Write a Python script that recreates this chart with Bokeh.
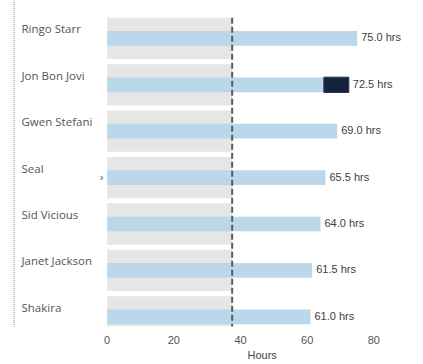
from bokeh.plotting import figure
from bokeh.models import Range1d, FixedTicker, Title, ColumnDataSource
from bokeh.core.properties import value
from bokeh.embed import file_html
from bokeh.resources import INLINE

# ---- data ----
names = ["Ringo Starr", "Jon Bon Jovi", "Gwen Stefani", "Seal",
         "Sid Vicious", "Janet Jackson", "Shakira"]
hours = [75.0, 72.5, 69.0, 65.5, 64.0, 61.5, 61.0]
highlight_name = "Jon Bon Jovi"
highlight_from = 65.0
target = 37.5
ticks = [0, 20, 40, 60, 80]
axis_title = "Hours"
unit = "hrs"

# ---- derived ----
idx = list(range(len(names)))
base = [min(h, highlight_from) if n == highlight_name else h for n, h in zip(names, hours)]
hi_i = names.index(highlight_name)

src = ColumnDataSource(dict(
    y=idx, name=names, hours=hours, base=base,
    zero=[0] * len(names), tgt=[target] * len(names),
    lbl=[f"{h:.1f} {unit}" for h in hours],
))

p = figure(width=423, height=364, output_backend="svg", toolbar_location=None,
           x_range=Range1d(-32.0, 94.9), y_range=Range1d(6.209, -0.817),
           min_border_left=0, min_border_right=0, min_border_top=0,
           min_border_bottom=38, margin=0)
p.outline_line_color = None
p.xgrid.visible = False
p.ygrid.visible = False
p.yaxis.visible = False
p.background_fill_color = "white"
p.border_fill_color = "white"

# dotted rule at the left edge of the visual
p.segment(x0=[-27.95], x1=[-27.95], y0=[-1.0], y1=[6.5],
          line_color="#8a8a8a", line_width=1, line_dash="1 1")

# grey target bands
p.hbar(y="y", left="zero", right="tgt", height=0.89, source=src,
       fill_color="#e6e6e6", line_color=None)
# light blue bars
p.hbar(y="y", left="zero", right="base", height=0.317, source=src,
       fill_color="#bbd7ea", line_color=None)
# highlighted portion
p.hbar(y=[hi_i], left=[highlight_from], right=[hours[hi_i]], height=0.33,
       fill_color="#16213e", line_color="#2a3550", line_width=1)
# dashed target line
p.segment(x0=[target], x1=[target], y0=[-0.445], y1=[6.5],
          line_color="#5a5a5a", line_width=2, line_dash="6 3")

# value labels
p.text(x="hours", y="y", text="lbl", source=src, x_offset=4, y_offset=-1,
       text_align="left", text_baseline="middle",
       text_font=value("Liberation Sans"), text_font_size="11px",
       text_color="#404040")
# category labels
p.text(x=-25.7, y="y", text="name", source=src, y_offset=-9.5,
       text_align="left", text_baseline="alphabetic",
       text_font=value("Open Sans"), text_font_size="11.5px",
       text_color="#555555")
# small marker glyph near Seal row
p.text(x=[-1.6], y=[names.index("Seal")], text=["›"], text_align="center",
       text_baseline="middle", text_font=value("DejaVu Sans"),
       text_font_size="10px", text_color="#333333")

ax = p.xaxis[0]
ax.ticker = FixedTicker(ticks=ticks)
ax.axis_line_color = None
ax.major_tick_line_color = None
ax.minor_tick_line_color = None
ax.major_tick_out = 0
ax.major_label_standoff = 9
ax.major_label_text_font = "Liberation Sans"
ax.major_label_text_font_size = "11px"
ax.major_label_text_color = "#555555"

p.add_layout(Title(text=axis_title, align="left", offset=247,
                   vertical_align="top", standoff=4,
                   text_font="Liberation Sans", text_font_style="normal",
                   text_font_size="11px", text_color="#444444"), "below")

open("out.html", "w").write(file_html(p, INLINE))
